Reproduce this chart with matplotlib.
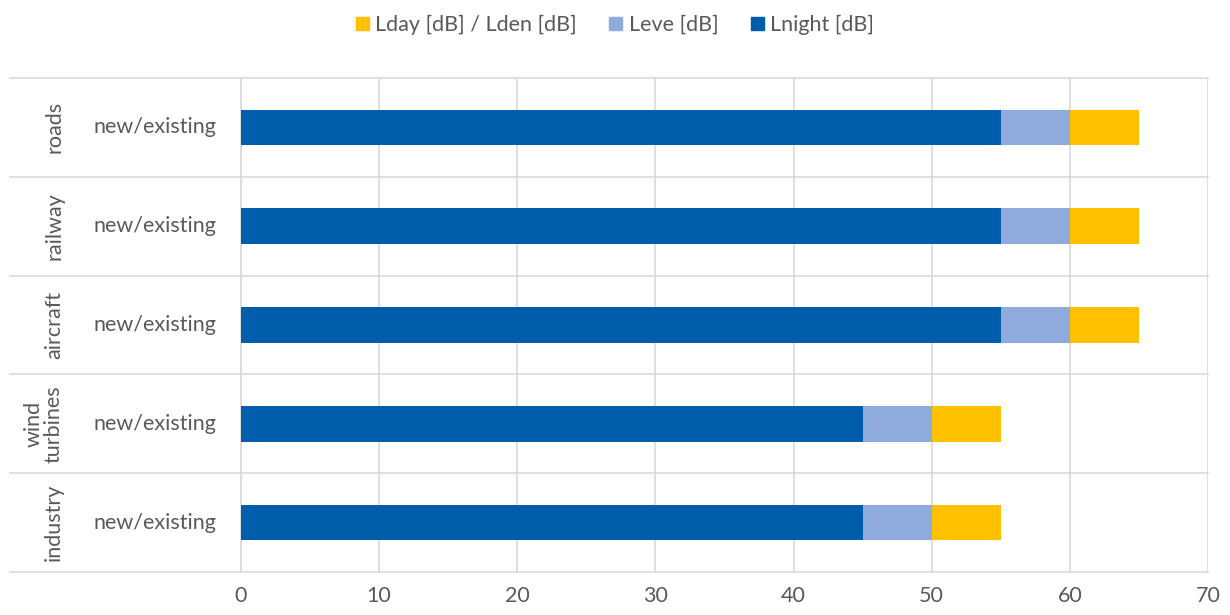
import matplotlib.pyplot as plt
from matplotlib.patches import Patch
from matplotlib.transforms import blended_transform_factory

plt.rcParams['font.family'] = ['Lato', 'DejaVu Sans']

groups = ["industry", "wind\nturbines", "aircraft", "railway", "roads"]
sub_label = "new/existing"
lday = [55, 55, 65, 65, 65]
leve = [50, 50, 60, 60, 60]
lnight = [45, 45, 55, 55, 55]
xticks = [0, 10, 20, 30, 40, 50, 60, 70]

c_day = "#FFC000"
c_eve = "#8FAADC"
c_night = "#005DAA"
grid_c = "#D9D9D9"
text_c = "#595959"
fs = 15.5

fig = plt.figure(figsize=(12.3, 6.15), dpi=100)
ax = fig.add_axes([241 / 1230, 1 - 572 / 615, (1208 - 241) / 1230, (572 - 78) / 615])

ypos = list(range(len(groups)))
# bars overlap: the longest goes first so the shorter ones sit on top
ax.barh(ypos, lday, height=0.36, color=c_day, zorder=3)
ax.barh(ypos, leve, height=0.36, color=c_eve, zorder=4)
ax.barh(ypos, lnight, height=0.36, color=c_night, zorder=5)

ax.set_xlim(0, 70)
ax.set_ylim(-0.5, len(groups) - 0.5)
ax.set_xticks(xticks)
ax.set_xticklabels([str(t) for t in xticks], fontsize=fs, color=text_c)
ax.set_yticks([])
ax.tick_params(axis="x", length=0, pad=10)
ax.grid(axis="x", color=grid_c, linewidth=1.2, zorder=0)
for s in ["top", "right", "bottom"]:
    ax.spines[s].set_visible(False)
ax.spines["left"].set_color(grid_c)
ax.spines["left"].set_linewidth(1.2)

# category separators run out into the label area
tr = blended_transform_factory(fig.transFigure, ax.transData)
for b in range(len(groups) + 1):
    ax.plot([10 / 1230, 1208 / 1230], [b - 0.5, b - 0.5], transform=tr,
            color=grid_c, linewidth=1.2, clip_on=False, zorder=1)

for y, g in zip(ypos, groups):
    ax.text(155 / 1230, y, sub_label, transform=tr, ha="center", va="center",
            fontsize=fs, color=text_c)
    gx = 44 if "\n" in g else 54
    ax.text(gx / 1230, y, g, transform=tr, ha="center", va="center",
            rotation=90, fontsize=fs, color=text_c, linespacing=1.0)

handles = [Patch(color=c_day, label="Lday [dB] / Lden [dB]"),
           Patch(color=c_eve, label="Leve [dB]"),
           Patch(color=c_night, label="Lnight [dB]")]
leg = fig.legend(handles=handles, loc="center", bbox_to_anchor=(0.5, 1 - 25 / 615),
                 ncol=3, frameon=False, fontsize=fs, handlelength=0.6,
                 handleheight=0.6, handletextpad=0.3, columnspacing=1.5)
for t in leg.get_texts():
    t.set_color(text_c)

fig.savefig("out.png", dpi=100)
